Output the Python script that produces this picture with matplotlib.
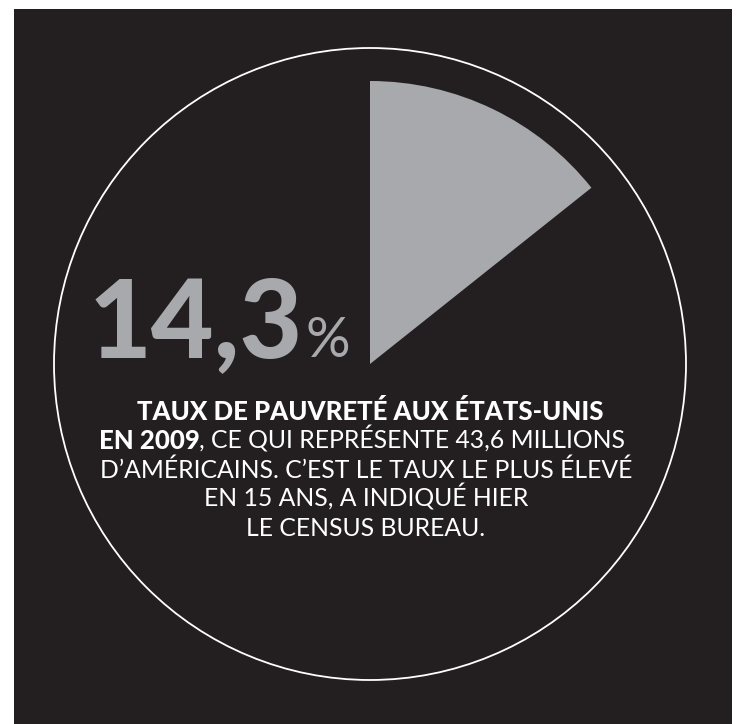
import matplotlib.pyplot as plt
from matplotlib.patches import Rectangle, Circle

W, H = 745, 724

# data
shares = [14.3, 85.7]
big_value = "14,3"
big_unit = "%"
line1 = "TAUX DE PAUVRETÉ AUX ÉTATS-UNIS"
line2_bold = "EN 2009"
line2_rest = ", CE QUI REPRÉSENTE 43,6 MILLIONS"
other_lines = [
    "D\u2019AMÉRICAINS. C\u2019EST LE TAUX LE PLUS ÉLEVÉ",
    "EN 15 ANS, A INDIQUÉ HIER",
    "LE CENSUS BUREAU.",
]

dark = "#231f20"
grey = "#a7a9ac"
font = "Lato"


def py(y):
    # pixel y (from top) -> data y
    return H - y


fig = plt.figure(figsize=(W / 100, H / 100), dpi=100)
ax = fig.add_axes([0, 0, 1, 1])

ax.add_patch(Rectangle((14, 0), 718, py(9), facecolor=dark, edgecolor="none", zorder=0))
ax.add_patch(Circle((370, py(364)), 316, facecolor="none", edgecolor="white", lw=1.3, zorder=2))

ax.pie(shares, colors=[grey, "none"], startangle=90, counterclock=False,
       center=(370, py(364)), radius=283, frame=True,
       wedgeprops=dict(linewidth=0, edgecolor="none"))

ax.set_xlim(0, W)
ax.set_ylim(0, H)
ax.set_aspect("equal")
ax.axis("off")

ax.text(303, py(357), big_value, ha="right", va="baseline", color=grey,
        fontsize=78, fontfamily=font, fontweight="black")
ax.text(306, py(357), big_unit, ha="left", va="baseline", color=grey,
        fontsize=40, fontfamily=font, fontweight="normal")

fs = 18.5
fs_light = 17.8
ax.text(370, py(420), line1, ha="center", va="baseline", color="white",
        fontsize=fs, fontfamily=font, fontweight="black")

# line 2 : bold start + light rest, centred together
fig.canvas.draw()
r = fig.canvas.get_renderer()
t1 = ax.text(0, py(449), line2_bold, ha="left", va="baseline", color="white",
             fontsize=fs, fontfamily=font, fontweight="black")
t2 = ax.text(0, py(449), line2_rest, ha="left", va="baseline", color="white",
             fontsize=fs_light, fontfamily=font, fontweight="normal")
w1 = t1.get_window_extent(r).width
w2 = t2.get_window_extent(r).width
x0 = 362 - (w1 + w2) / 2
t1.set_x(x0)
t2.set_x(x0 + w1)

for i, s in enumerate(other_lines):
    ax.text(366, py(478 + 29 * i), s, ha="center", va="baseline", color="white",
            fontsize=fs_light, fontfamily=font, fontweight="normal")

fig.savefig("out.png", dpi=100, facecolor="white")
